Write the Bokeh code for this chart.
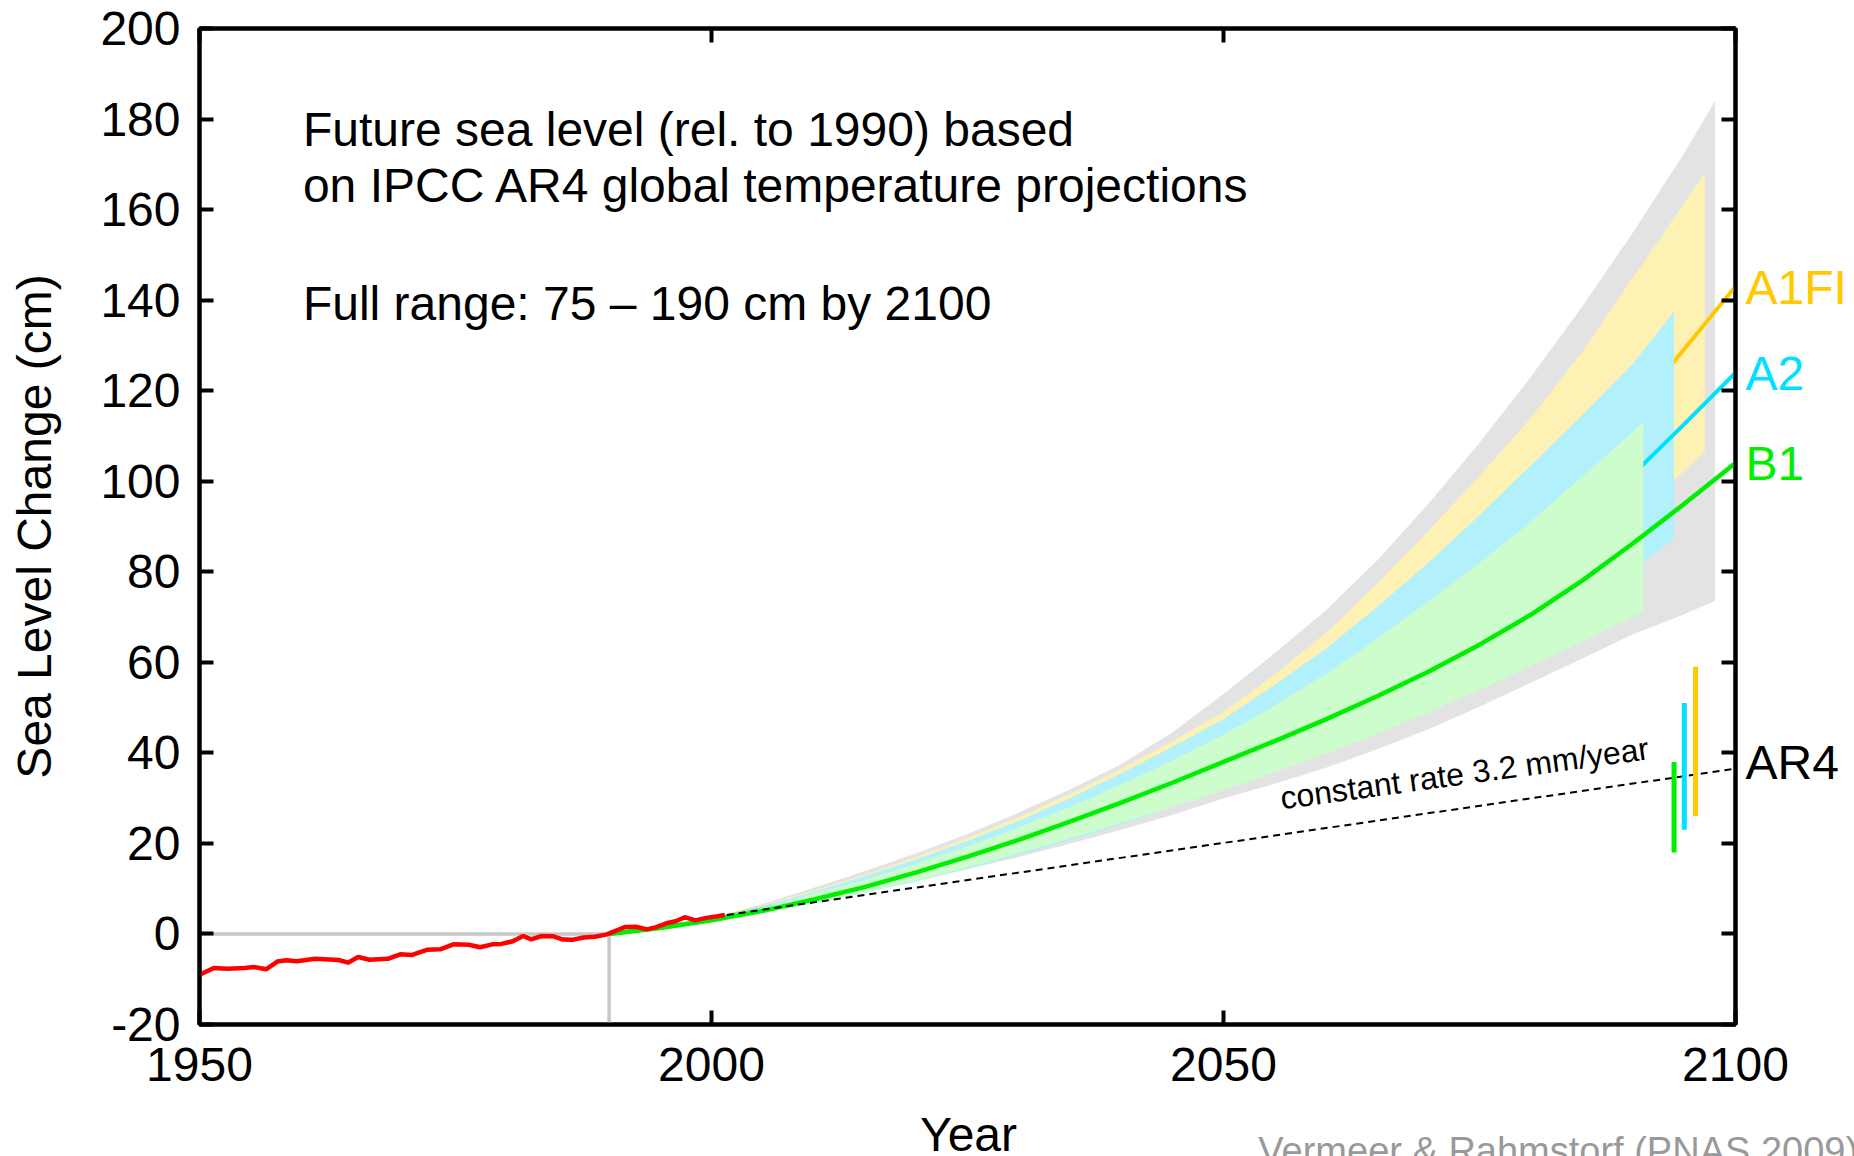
import math
from bokeh.plotting import figure
from bokeh.models import Range1d, FixedTicker, LinearAxis, Label
from bokeh.core.properties import value
from bokeh.embed import file_html
from bokeh.resources import INLINE

FONT = "Liberation Sans"

# ---------------- data ----------------
x_ticks = [1950, 2000, 2050, 2100]
y_ticks = [-20, 0, 20, 40, 60, 80, 100, 120, 140, 160, 180, 200]

# observed sea level (red)
obs_year = [1950.0, 1951.4, 1952.7, 1954.4, 1955.3, 1956.5, 1957.6, 1958.5, 1959.5, 1961.3,
            1963.6, 1964.5, 1965.5, 1966.6, 1968.4, 1969.6, 1970.7, 1972.2, 1973.5, 1974.8,
            1976.3, 1977.4, 1978.6, 1979.5, 1980.6, 1981.6, 1982.4, 1983.4, 1984.5, 1985.5,
            1986.4, 1987.5, 1988.6, 1989.7, 1990.7, 1991.6, 1992.6, 1993.7, 1994.6, 1995.6,
            1996.5, 1997.4, 1998.4, 1999.5, 2000.6, 2001.3]
obs_cm = [-9.0, -7.5, -7.7, -7.5, -7.3, -7.8, -6.1, -5.8, -6.05, -5.5,
          -5.75, -6.35, -5.1, -5.7, -5.5, -4.5, -4.65, -3.5, -3.4, -2.3,
          -2.4, -2.95, -2.3, -2.2, -1.6, -0.45, -1.2, -0.45, -0.5, -1.25,
          -1.3, -0.8, -0.6, -0.15, 0.75, 1.55, 1.6, 1.0, 1.5, 2.35,
          2.8, 3.7, 3.0, 3.55, 3.9, 4.2]

# full range (grey band)
full_year = [1990, 1995, 2000, 2005, 2010, 2015, 2020, 2025, 2030, 2035, 2040, 2045,
             2050, 2055, 2060, 2065, 2070, 2075, 2080, 2085, 2090, 2095, 2098]
full_upper = [0, 1.5, 3.5, 6.6, 10.2, 13.9, 17.8, 22.1, 26.8, 31.9, 37.5, 44.5,
              53, 62, 71.5, 82.5, 95, 108.5, 123, 138.5, 155, 172.5, 184]
full_lower = [0, 1.1, 2.6, 4.7, 7.0, 9.3, 11.8, 14.3, 17.0, 19.9, 23.0, 26.3,
              29.9, 33.2, 36.7, 40.8, 45.2, 50.2, 55.5, 60.8, 66.2, 70.6, 73.6]

# A1FI band (yellow)
a1fi_band_year = [1990, 1995, 2000, 2005, 2010, 2015, 2020, 2025, 2030, 2035, 2040, 2045,
                  2050, 2055, 2060, 2065, 2070, 2075, 2080, 2085, 2090, 2095, 2097]
a1fi_upper = [0, 1.4, 3.4, 6.3, 9.6, 13.1, 17, 21.2, 25.8, 30.9, 36.5, 42.5,
              49, 57.3, 66.5, 77.3, 89, 101.2, 114, 128.5, 145, 161.5, 168]
a1fi_lower = [0, 1.3, 2.8, 4.8, 7.0, 9.5, 12.2, 15.3, 18.7, 22.4, 26.3, 30.5,
              35, 40.3, 46, 52.3, 59, 66.3, 74, 82.8, 92, 102.3, 106.5]

# A2 band (cyan)
a2_band_year = [1990, 1995, 2000, 2005, 2010, 2015, 2020, 2025, 2030, 2035, 2040, 2045,
                2050, 2055, 2060, 2065, 2070, 2075, 2080, 2085, 2090, 2094]
a2_upper = [0, 1.4, 3.3, 6.1, 9.3, 12.8, 16.5, 20.6, 25, 30, 35.5, 41.3,
            47.5, 55, 63, 72.2, 82, 92.5, 103.5, 114.5, 126, 137.5]
a2_lower = [0, 1.2, 2.7, 4.6, 6.8, 9.1, 11.6, 14.4, 17.5, 20.7, 24.2, 28.2,
            32.5, 36.8, 41.5, 46.5, 52, 58, 64.5, 72, 80.3, 87.3]

# B1 band (green)
b1_band_year = [1990, 1995, 2000, 2005, 2010, 2015, 2020, 2025, 2030, 2035, 2040, 2045,
                2050, 2055, 2060, 2065, 2070, 2075, 2080, 2085, 2090, 2091]
b1_upper = [0, 1.4, 3.2, 5.8, 8.8, 12, 15.5, 19.3, 23.5, 28, 33, 38.3,
            44, 50.5, 57.4, 65.2, 73.5, 82, 91, 101, 111, 113]
b1_lower = [0, 1.2, 2.7, 4.6, 6.8, 9.2, 11.8, 14.7, 17.8, 21.1, 24.5, 28.1,
            31.8, 35.7, 39.8, 44.2, 48.9, 53.9, 59.2, 64.5, 70, 71.2]

# central projections
proj_year = [1990, 1995, 2000, 2005, 2010, 2015, 2020, 2025, 2030, 2035, 2040, 2045,
             2050, 2055, 2060, 2065, 2070, 2075, 2080, 2085, 2090, 2095, 2100]
a1fi_mid = [0, 1.4, 3.2, 5.7, 8.5, 11.7, 15.2, 19.2, 23.5, 28.3, 33.5, 39,
            45, 51.5, 58.5, 66.2, 74.5, 83.5, 93.5, 104, 115.5, 129.2, 143]
a2_mid = [0, 1.4, 3.1, 5.4, 8.0, 11.0, 14.3, 18.0, 22, 26.4, 31.2, 36.1,
          41.3, 46.7, 52.5, 58.8, 65.5, 73, 81, 90.5, 101.5, 112.6, 124]
b1_mid = [0, 1.3, 3.0, 5.1, 7.6, 10.4, 13.6, 17.1, 20.8, 24.8, 29.0, 33.4,
          38.0, 42.6, 47.4, 52.5, 57.9, 63.9, 70.5, 78, 86.3, 95, 104]

# constant rate 3.2 mm/year
const_year = [2001.5, 2100]
const_cm = [4.2, 36.5]

# IPCC AR4 ranges (2090-2099)
ar4_scen = ["B1", "A2", "A1FI"]
ar4_x = [2094.0, 2095.0, 2096.1]
ar4_low = [18, 23, 26]
ar4_high = [38, 51, 59]

# baseline reference (1990 = 0)
ref_h_year = [1950, 1990]
ref_h_cm = [0, 0]
ref_v_year = [1990, 1990]
ref_v_cm = [-20, 0]

# scenario labels at the right edge
scen_names = ["A1FI", "A2", "B1", "AR4"]
scen_label_cm = [139, 120, 100, 34]

# ---------------- style ----------------
GREY_FILL = "#e3e3e3"
YEL_FILL = "#fef1b4"
CYAN_FILL = "#b2f1fc"
GREEN_FILL = "#cdfccd"
ORANGE = "#ffc800"
CYAN = "#00e0ff"
GREEN = "#00ee00"
RED = "#ff0000"
scen_colors = [ORANGE, CYAN, GREEN, "black"]

SHIFT = 17.5  # px: lifts text baselines to where the reference draws them

p = figure(width=1854, height=1156,
           x_range=Range1d(1950, 2100), y_range=Range1d(-20, 200),
           output_backend="svg", toolbar_location=None,
           min_border_left=199, min_border_right=119,
           min_border_top=28, min_border_bottom=132)
p.xgrid.visible = False
p.ygrid.visible = False
p.outline_line_color = "black"
p.outline_line_width = 4
p.background_fill_color = "white"
p.border_fill_color = "white"


def style_axis(ax, labels=True):
    ax.axis_line_color = "black"
    ax.axis_line_width = 4
    ax.major_tick_line_color = "black"
    ax.major_tick_line_width = 4
    ax.major_tick_in = 14
    ax.major_tick_out = 0
    ax.minor_tick_line_color = None
    ax.major_label_text_font = FONT
    ax.major_label_text_color = "black"
    if labels:
        ax.major_label_text_font_size = "48px"
    else:
        ax.major_label_text_font_size = "0px"
        ax.major_label_standoff = 0


xa = p.xaxis[0]
ya = p.yaxis[0]
xa.ticker = FixedTicker(ticks=x_ticks)
ya.ticker = FixedTicker(ticks=y_ticks)
style_axis(xa)
style_axis(ya)
xa.major_label_standoff = 23
ya.major_label_standoff = 19
ya.major_label_overrides = {-20: "-20"}

top = LinearAxis(ticker=FixedTicker(ticks=x_ticks))
style_axis(top, labels=False)
p.add_layout(top, "above")
right = LinearAxis(ticker=FixedTicker(ticks=y_ticks))
style_axis(right, labels=False)
p.add_layout(right, "right")

# reference lines
p.line(ref_h_year, ref_h_cm, line_color="#c8c8c8", line_width=3.5)
p.line(ref_v_year, ref_v_cm, line_color="#c8c8c8", line_width=3.5)

# bands and central lines
p.varea(x=full_year, y1=full_lower, y2=full_upper, fill_color=GREY_FILL)
p.varea(x=a1fi_band_year, y1=a1fi_lower, y2=a1fi_upper, fill_color=YEL_FILL)
p.line(proj_year, a1fi_mid, line_color=ORANGE, line_width=4)
p.varea(x=a2_band_year, y1=a2_lower, y2=a2_upper, fill_color=CYAN_FILL)
p.line(proj_year, a2_mid, line_color=CYAN, line_width=4)
p.varea(x=b1_band_year, y1=b1_lower, y2=b1_upper, fill_color=GREEN_FILL)
p.line(proj_year, b1_mid, line_color=GREEN, line_width=4.5)

# observations and constant rate
p.line(obs_year, obs_cm, line_color=RED, line_width=4.5)
p.line(const_year, const_cm, line_color="black", line_width=2, line_dash="7 5")

# AR4 bars
p.segment(x0=ar4_x, y0=ar4_low, x1=ar4_x, y1=ar4_high,
          line_color=[GREEN, CYAN, ORANGE], line_width=5)


def lab(x, y, text, size="48px", color="black", **kw):
    p.add_layout(Label(x=x, y=y, text=text, text_font=FONT, text_font_size=size,
                       text_color=color, text_baseline="alphabetic", **kw))


lab(1960.1, 173.8, "Future sea level (rel. to 1990) based", y_offset=SHIFT)
lab(1960.1, 161.4, "on IPCC AR4 global temperature projections", y_offset=SHIFT)
lab(1960.1, 135.4, "Full range: 75 \u2013 190 cm by 2100", y_offset=SHIFT)
lab(2055.8, 26.3, "constant rate 3.2 mm/year", size="32px", angle=0.1355,
    x_offset=-2.4, y_offset=SHIFT - 1)

# texts outside the frame (overlay level so they are not clipped)
p.text(x=[2099.9] * 4, y=scen_label_cm, text=scen_names, x_offset=11, y_offset=-SHIFT,
       text_color=scen_colors, text_font=value(FONT), text_font_size="48px",
       text_baseline="alphabetic", text_align="left", level="overlay")
p.text(x=[1950.5], y=[90], text=["Sea Level Change (cm)"], x_offset=-153 - SHIFT,
       angle=math.pi / 2, text_color="black", text_font=value(FONT),
       text_font_size="48px", text_baseline="alphabetic", text_align="center",
       level="overlay")
p.text(x=[2025.1], y=[-19.5], text=["Year"], y_offset=130 - SHIFT,
       text_color="black", text_font=value(FONT), text_font_size="48px",
       text_baseline="alphabetic", text_align="center", level="overlay")
p.text(x=[2053.4], y=[-19.5], text=["Vermeer & Rahmstorf (PNAS 2009)"], y_offset=146 - SHIFT,
       text_color="#999999", text_font=value(FONT), text_font_size="38px",
       text_baseline="alphabetic", text_align="left", level="overlay")

open("out.html", "w").write(file_html(p, INLINE))
